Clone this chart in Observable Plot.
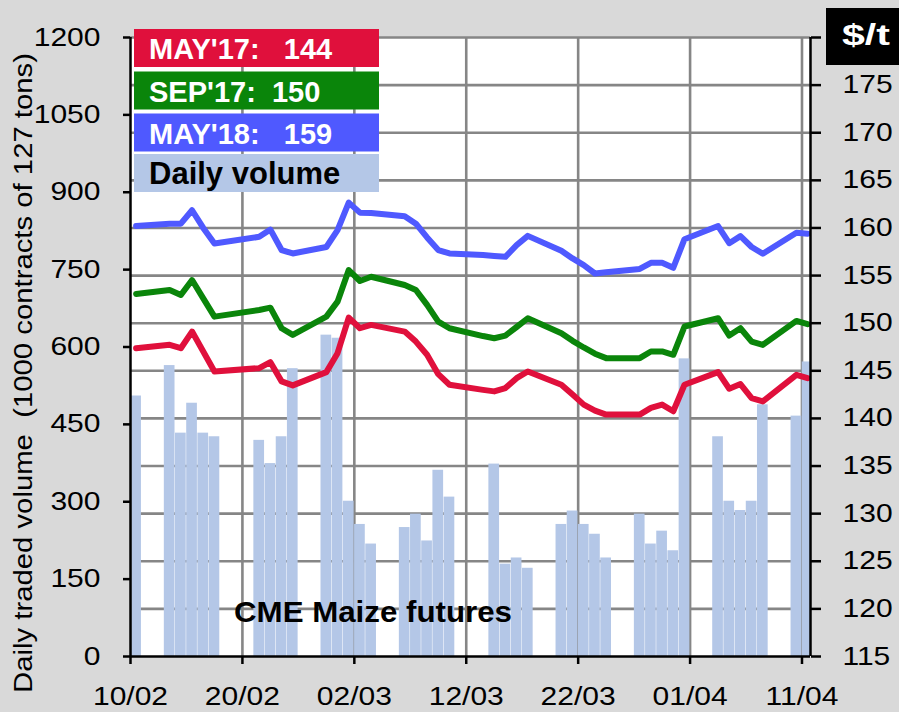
<!DOCTYPE html>
<html><head><meta charset="utf-8">
<script src="https://cdn.jsdelivr.net/npm/d3@7"></script>
<script src="https://cdn.jsdelivr.net/npm/@observablehq/plot@0.6"></script>
<style>
html,body{margin:0;padding:0;background:#D9D9D9;}
#wrap{position:relative;width:899px;height:712px;overflow:hidden;}
</style></head><body><div id="wrap"></div>
<script>
// ---- data ----
const dates = [
 "2017-02-10","2017-02-13","2017-02-14","2017-02-15","2017-02-16","2017-02-17",
 "2017-02-21","2017-02-22","2017-02-23","2017-02-24",
 "2017-02-27","2017-02-28","2017-03-01","2017-03-02","2017-03-03",
 "2017-03-06","2017-03-07","2017-03-08","2017-03-09","2017-03-10",
 "2017-03-13","2017-03-14","2017-03-15","2017-03-16","2017-03-17",
 "2017-03-20","2017-03-21","2017-03-22","2017-03-23","2017-03-24",
 "2017-03-27","2017-03-28","2017-03-29","2017-03-30","2017-03-31",
 "2017-04-03","2017-04-04","2017-04-05","2017-04-06","2017-04-07",
 "2017-04-10","2017-04-11"];
const volume = [
 505,564,433,491,433,426,
 419,374,426,558,
 623,617,301,256,218,
 250,276,224,361,309,
 null,373,179,191,171,
 256,282,256,237,191,
 276,218,243,205,577,
 426,301,283,301,488,
 466,571];
const may17 = [
 147.37,147.73,147.37,149.12,147.03,144.93,
 145.28,145.91,143.89,143.47,
 144.86,146.85,150.59,149.47,149.82,
 149.12,148.07,146.68,144.65,143.54,
 143.0,142.84,143.19,144.23,144.93,
 143.54,142.5,141.45,140.82,140.4,
 140.4,141.1,141.45,140.75,143.54,
 144.86,143.12,143.61,142.14,141.79,
 144.58,144.23];
const sep17 = [
 153.07,153.49,152.96,154.53,152.6,150.69,
 151.39,151.63,149.47,148.77,
 150.69,152.26,155.58,154.43,154.88,
 154.01,153.49,151.92,150.17,149.47,
 148.65,148.42,148.7,149.6,150.52,
 148.95,148.15,147.45,146.8,146.33,
 146.33,147.03,147.03,146.68,149.65,
 150.52,148.7,149.47,148.07,147.72,
 150.24,149.89];
const may18 = [
 160.2,160.45,160.45,161.86,160.0,158.36,
 159.07,159.83,157.68,157.32,
 158.0,159.77,162.66,161.61,161.58,
 161.23,160.45,159.0,157.68,157.32,
 157.15,157.05,156.97,158.2,159.17,
 157.6,156.8,156.1,155.22,155.35,
 155.7,156.34,156.34,155.82,158.82,
 160.2,158.4,159.14,158.0,157.3,
 159.5,159.4];
const seriesNames = ["MAY'17","SEP'17","MAY'18"];
const seriesLabels = ["MAY'17:   ","SEP'17:  ","MAY'18:   "];
const seriesColors = ["#E0103C","#0A850A","#4F59FF"];
const barColor = "#B4C7E7";
const volumeLabel = "Daily volume";
const volTicks = [0,150,300,450,600,750,900,1050,1200];
const priceTicks = [115,120,125,130,135,140,145,150,155,160,165,170,175,180];
const dateTicks = ["2017-02-10","2017-02-20","2017-03-02","2017-03-12","2017-03-22","2017-04-01","2017-04-11"];
const yTitle = "Daily traded volume  (1000 contracts of 127 tons)";
const chartNote = "CME Maize futures";
const unitLabel = "$/t";

// ---- helpers ----
const DAY = 864e5;
const parse = s => new Date(s + "T00:00:00Z");
const pMin = priceTicks[0], pMax = priceTicks[priceTicks.length-1];
const vMax = volTicks[volTicks.length-1];
const toPrice = v => pMin + v * (pMax - pMin) / vMax;
const fromPrice = p => (p - pMin) * vMax / (pMax - pMin);

const bars = dates.map((d,i)=>({start: parse(d), end: new Date(+parse(d)+DAY), vol: volume[i]})).filter(r => r.vol != null);
const seriesVals = [may17, sep17, may18];
const lineData = seriesVals.map(vals => dates.map((d,i)=>({date: new Date(+parse(d)+DAY/2), price: vals[i]})));

const x0 = parse(dateTicks[0]);
const x1 = new Date(+x0 + 60.76*DAY);
const FONT = "'Liberation Sans', Arial, sans-serif";

const chart = Plot.plot({
  width: 899, height: 712,
  marginLeft: 130, marginRight: 89, marginTop: 37, marginBottom: 56,
  style: {background: "#D9D9D9", fontFamily: FONT, fontSize: "25px", color: "#000", overflow: "visible"},
  x: {type: "utc", domain: [x0, x1]},
  y: {domain: [pMin, pMax]},
  marks: [
    Plot.frame({fill: "white", stroke: "none"}),
    Plot.gridY(priceTicks.slice(1), {stroke: "#868686", strokeOpacity: 1, strokeWidth: 2.6}),
    Plot.gridX(dateTicks.slice(1).map(parse), {stroke: "#868686", strokeOpacity: 1, strokeWidth: 2.6}),
    Plot.rectY(bars, {x1: "start", x2: "end", y1: pMin, y2: d => toPrice(d.vol), fill: barColor, insetLeft: 0.25, insetRight: 0.25, clip: true}),
    ...lineData.map((ld, k) => Plot.line(ld, {x: "date", y: "price", stroke: seriesColors[k], strokeWidth: 6, strokeLinejoin: "round", strokeLinecap: "round"})),
    Plot.ruleX([x0, x1], {stroke: "#000", strokeWidth: 2.5}),
    Plot.ruleY([pMin], {stroke: "#000", strokeWidth: 2.5}),
    Plot.axisY(volTicks.map(toPrice), {anchor: "left", tickFormat: p => String(Math.round(fromPrice(p))), tickSize: 7, tickPadding: 23, label: null, strokeWidth: 2.5}),
    Plot.axisY(priceTicks, {anchor: "right", tickFormat: p => p === pMax ? "" : String(p), tickSize: 10, tickPadding: 22, label: null, strokeWidth: 2.5}),
    Plot.axisX(dateTicks.map(parse), {anchor: "bottom", tickFormat: d3.utcFormat("%d/%m"), tickSize: 8, tickPadding: 23, label: null, strokeWidth: 2.5})
  ]
});

document.getElementById("wrap").appendChild(chart);
const svg = d3.select(chart);

// widen regular tick labels to match the reference proportions
chart.querySelectorAll('g[aria-label$="tick label"] text').forEach(t => {
  const len = t.getComputedTextLength();
  if (len > 0) { t.setAttribute("textLength", (len*1.2).toFixed(1)); t.setAttribute("lengthAdjust", "spacingAndGlyphs"); }
});

// y-axis title
svg.append("text")
  .attr("transform", "translate(32,373) rotate(-90)")
  .attr("text-anchor", "middle")
  .attr("font-family", FONT).attr("font-size", 25).attr("fill", "#000")
  .attr("textLength", 640).attr("lengthAdjust", "spacingAndGlyphs")
  .attr("xml:space", "preserve")
  .text(yTitle);

// legend boxes
const legItems = seriesNames.map((n,k) => ({label: seriesLabels[k] + Math.round(seriesVals[k][seriesVals[k].length-1]), fill: seriesColors[k], color: "#fff"}));
legItems.push({label: volumeLabel, fill: barColor, color: "#000"});
const legTops = [29, 71.5, 113.5, 154];
const lg = svg.append("g");
legItems.forEach((it, k) => {
  lg.append("rect").attr("x", 134).attr("y", legTops[k]).attr("width", 245).attr("height", 38).attr("fill", it.fill);
  lg.append("text").attr("x", 149).attr("y", legTops[k] + 30).attr("text-anchor", "start")
    .attr("font-family", FONT).attr("font-weight", "bold").attr("font-size", k === 3 ? 31 : 29)
    .attr("fill", it.color).style("white-space", "pre").attr("xml:space", "preserve").text(it.label);
});

// unit box
svg.append("rect").attr("x", 826).attr("y", 8).attr("width", 73).attr("height", 57).attr("fill", "#000");
svg.append("text").attr("x", 842).attr("y", 45).attr("text-anchor", "start").attr("font-family", FONT).attr("font-weight", "bold").attr("font-size", 29)
  .attr("fill", "#fff").attr("textLength", 48).attr("lengthAdjust", "spacingAndGlyphs").text(unitLabel);

// note
svg.append("text").attr("x", 234).attr("y", 622).attr("text-anchor", "start").attr("font-family", FONT).attr("font-weight", "bold").attr("font-size", 30)
  .attr("fill", "#000").attr("textLength", 278).attr("lengthAdjust", "spacingAndGlyphs").text(chartNote);
</script></body></html>
